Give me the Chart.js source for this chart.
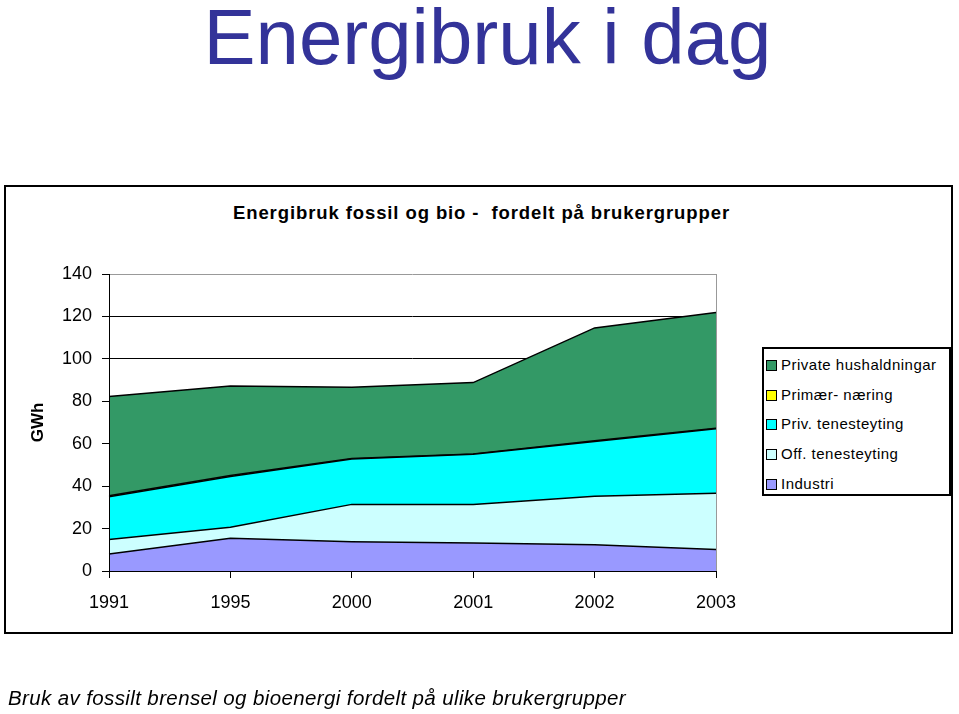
<!DOCTYPE html>
<html>
<head>
<meta charset="utf-8">
<script src="https://cdn.jsdelivr.net/npm/chart.js@4/dist/chart.umd.min.js"></script>
<style>
    html, body { margin: 0; padding: 0; background: #fff; }
    body { width: 959px; height: 714px; position: relative; overflow: hidden; font-family: 'Liberation Sans', Arial, sans-serif; }
    #bigTitle { position: absolute; left: 0; width: 975px; top: -8px; text-align: center; font-size: 78px; color: #333399; }
    #frame { position: absolute; left: 4px; top: 185px; width: 945px; height: 445px; border: 2px solid #000; }
    #chartTitle { position: absolute; left: 0; width: 963px; top: 202px; text-align: center; font-size: 18.5px; font-weight: bold; letter-spacing: 0.9px; }
    #chart { position: absolute; left: 0; top: 0; }
    #legend { position: absolute; left: 762px; top: 347px; width: 185px; height: 145px; border: 2px solid #000; background: #fff; }
    .item { position: absolute; left: 2px; height: 20px; font-size: 15px; line-height: 20px; white-space: nowrap; letter-spacing: 0.5px; }
    .item .box { display: inline-block; width: 9px; height: 9px; border: 1px solid #000; margin-right: 4px; vertical-align: -1px; }
    #footer { position: absolute; left: 8px; top: 686px; font-size: 20.5px; font-style: italic; white-space: nowrap; letter-spacing: 0.38px; }
</style>
</head>
<body>
<div id="bigTitle">Energibruk i dag</div>
<div id="frame"></div>
<div id="chartTitle">Energibruk fossil og bio -&nbsp; fordelt på brukergrupper</div>
<canvas id="chart" width="959" height="714"></canvas>
<div id="legend"></div>
<div id="footer">Bruk av fossilt brensel og bioenergi fordelt på ulike brukergrupper</div>
<script>
// Categories and series (GWh)
const years = ['1991', '1995', '2000', '2001', '2002', '2003'];
const industri = [8.0, 15.4, 13.8, 13.2, 12.4, 10.1];
const offTenesteyting = [6.9, 5.2, 17.6, 18.2, 22.8, 26.5];
const privTenesteyting = [20.1, 23.9, 21.4, 23.6, 25.8, 30.5];
const primaerNaering = [0.5, 0.5, 0.2, 0.2, 0.4, 0.2];
const privateHushaldningar = [46.8, 42.2, 33.6, 33.6, 53.2, 54.6];

const seriesNames = ['Industri', 'Off. tenesteyting', 'Priv. tenesteyting', 'Primær- næring', 'Private hushaldningar'];
const seriesColors = ['#9999FF', '#CCFFFF', '#00FFFF', '#FFFF00', '#339966'];
const seriesData = [industri, offTenesteyting, privTenesteyting, primaerNaering, privateHushaldningar];

const datasets = seriesData.map((values, i) => ({
    label: seriesNames[i],
    data: values,
    backgroundColor: seriesColors[i],
    borderColor: '#000',
    borderWidth: 1.5,
    pointRadius: 0,
    tension: 0,
    fill: i === 0 ? 'origin' : '-1'
}));

// Legend, top item is the last series
const legendDiv = document.getElementById('legend');
seriesNames.slice().reverse().forEach((name, k) => {
    const i = seriesNames.length - 1 - k;
    const row = document.createElement('div');
    row.className = 'item';
    row.style.top = (6 + k * 29.7) + 'px';
    row.innerHTML = `<span class="box" style="background:${seriesColors[i]}"></span>${name}`;
    legendDiv.appendChild(row);
});

// Axis lines drawn on top of the areas
const axisLines = {
    id: 'axisLines',
    afterDatasetsDraw(chart) {
        const { ctx, chartArea: a } = chart;
        ctx.save();
        ctx.lineWidth = 1;
        ctx.strokeStyle = '#999';
        ctx.beginPath();
        ctx.moveTo(a.right + 0.5, a.top);
        ctx.lineTo(a.right + 0.5, a.bottom);
        ctx.stroke();
        ctx.strokeStyle = '#000';
        ctx.beginPath();
        ctx.moveTo(a.left + 0.5, a.top);
        ctx.lineTo(a.left + 0.5, a.bottom + 0.5);
        ctx.lineTo(a.right + 1, a.bottom + 0.5);
        ctx.stroke();
        ctx.restore();
    }
};

const tickFont = { family: "'Liberation Sans', Arial, sans-serif", size: 18 };

new Chart(document.getElementById('chart'), {
    type: 'line',
    data: { labels: years, datasets: datasets },
    options: {
        responsive: false,
        animation: false,
        layout: { padding: { left: 0, right: 243, top: 274, bottom: 93 } },
        plugins: {
            legend: { display: false },
            tooltip: { enabled: false },
            filler: { propagate: false }
        },
        scales: {
            x: {
                offset: false,
                grid: { drawOnChartArea: false, drawTicks: true, tickLength: 7, color: '#000' },
                border: { display: false },
                ticks: { color: '#000', font: tickFont, padding: 14, maxRotation: 0, autoSkip: false },
                afterFit(scale) { scale.height = 50; }
            },
            y: {
                stacked: true,
                min: 0,
                max: 140,
                grid: {
                    color: ctx => ctx.tick && ctx.tick.value === 140 ? '#999' : '#000',
                    tickLength: 7,
                    tickColor: '#000'
                },
                border: { display: false },
                ticks: { stepSize: 20, color: '#000', font: tickFont, padding: 10 },
                title: {
                    display: true,
                    text: 'GWh',
                    color: '#000',
                    font: { family: "'Liberation Sans', Arial, sans-serif", size: 17, weight: 'bold' },
                    padding: { top: 28 }
                },
                afterFit(scale) { scale.width = 109; }
            }
        }
    },
    plugins: [axisLines]
});
</script>
</body>
</html>
